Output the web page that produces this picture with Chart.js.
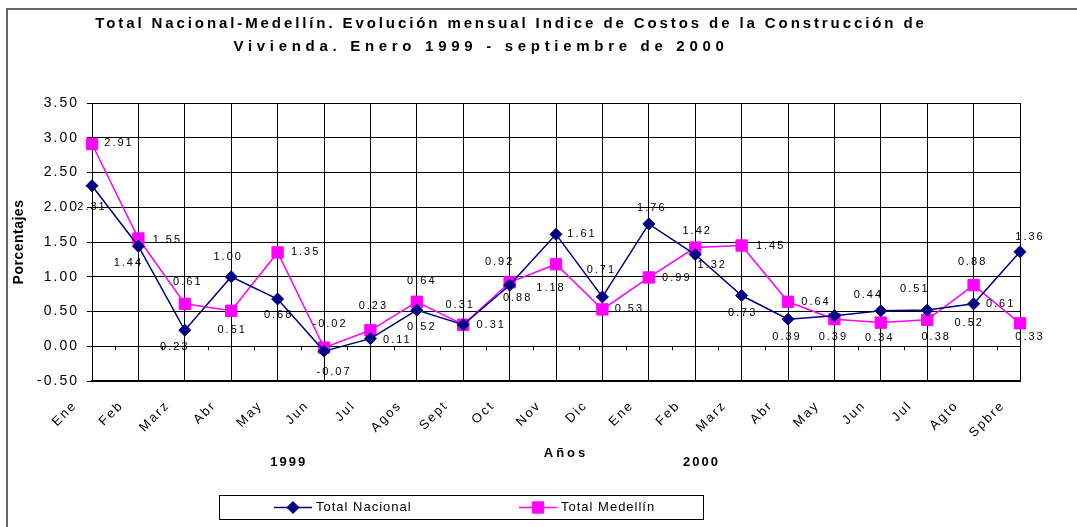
<!DOCTYPE html>
<html lang="es">
<head>
  <meta charset="UTF-8" />
  <title>Índice de Costos de la Construcción de Vivienda</title>
  <script src="https://cdn.jsdelivr.net/npm/chart.js"></script>
  <style>
    html, body { margin: 0; padding: 0; background: #fff; }
    #wrap { width: 1077px; height: 527px; }
  </style>
</head>
<body>
  <div id="wrap"><canvas id="chart" width="1077" height="527"></canvas></div>

  <script>
    // data
    const months = ["Ene", "Feb", "Marz", "Abr", "May", "Jun", "Jul", "Agos", "Sept", "Oct", "Nov", "Dic",
                    "Ene", "Feb", "Marz", "Abr", "May", "Jun", "Jul", "Agto", "Spbre"];
    const totalNacional = [2.31, 1.44, 0.23, 1.00, 0.68, -0.07, 0.11, 0.52, 0.31, 0.88, 1.61, 0.71,
                           1.76, 1.32, 0.73, 0.39, 0.44, 0.51, 0.52, 0.61, 1.36];
    const totalMedellin = [2.91, 1.55, 0.61, 0.51, 1.35, -0.02, 0.23, 0.64, 0.31, 0.92, 1.18, 0.53,
                           0.99, 1.42, 1.45, 0.64, 0.39, 0.34, 0.38, 0.88, 0.33];
    const yTickValues = [-0.5, 0, 0.5, 1, 1.5, 2, 2.5, 3, 3.5];
    const yearLabels = ["1999", "2000"];

    // where each value label sits relative to its point (dx, dy in px)
    const nacLabelOffsets = [[0,21],[-10,17],[-10,17],[-3,-20],[1,16],[10,21],[27,1],[5,17],[28,0],[8,13],[26,0],
                             [-1,-27],[3,-16],[17,10],[1,17],[-1,18],[34,-21],[34,-22],[42,13],[27,0],[10,-15]];
    const medLabelOffsets = [[27,-1],[29,1],[3,-22],[1,19],[28,0],[6,-24],[3,-24],[5,-21],[-3,-20],[-10,-20],[-5,24],
                             [27,0],[28,1],[2,-17],[29,0],[28,0],[-1,18],[-1,15],[9,17],[-1,-23],[10,14]];

    const FONT = "'Liberation Sans', Arial, sans-serif";

    function spacedText(ctx, txt, x, y, font, spacing, align) {
      ctx.save();
      ctx.font = font;
      ctx.letterSpacing = spacing;
      ctx.fillStyle = '#000';
      ctx.textAlign = align || 'center';
      ctx.textBaseline = 'middle';
      ctx.fillText(txt, x, y);
      ctx.restore();
    }

    const decorations = {
      id: 'decorations',
      beforeDraw(chart) {
        const ctx = chart.ctx;
        ctx.save();
        ctx.fillStyle = '#fff';
        ctx.fillRect(0, 0, chart.width, chart.height);
        ctx.restore();
        // excel-ish wide spacing for axis tick labels
        ctx.letterSpacing = '2px';
      },
      afterDatasetsDraw(chart) {
        const ctx = chart.ctx;
        const xs = chart.scales.x, ys = chart.scales.y;
        // little ticks on the zero line, between categories
        const y0 = ys.getPixelForValue(0);
        ctx.save();
        ctx.strokeStyle = '#000';
        ctx.lineWidth = 1;
        ctx.beginPath();
        for (let i = 0; i < months.length - 1; i++) {
          const xm = Math.round((xs.getPixelForValue(i) + xs.getPixelForValue(i + 1)) / 2) + 0.5;
          ctx.moveTo(xm, y0);
          ctx.lineTo(xm, y0 + 4);
        }
        ctx.stroke();
        ctx.restore();

        // value labels
        const sets = [[0, nacLabelOffsets], [1, medLabelOffsets]];
        sets.forEach(([di, offs]) => {
          const meta = chart.getDatasetMeta(di);
          const vals = chart.data.datasets[di].data;
          meta.data.forEach((pt, i) => {
            spacedText(ctx, vals[i].toFixed(2), pt.x + offs[i][0], pt.y + offs[i][1],
                       '11px ' + FONT, '2px', 'center');
          });
        });
      },
      afterDraw(chart) {
        const ctx = chart.ctx;
        const xs = chart.scales.x;

        // outer frame (only top and left show)
        ctx.save();
        ctx.strokeStyle = '#333';
        ctx.lineWidth = 1.5;
        ctx.beginPath();
        ctx.moveTo(7, chart.height);
        ctx.lineTo(7, 9);
        ctx.lineTo(chart.width, 9);
        ctx.stroke();
        ctx.restore();

        // title
        spacedText(ctx, 'Total Nacional-Medellín. Evolución mensual Indice de Costos de la Construcción de',
                   511, 24, 'bold 15px ' + FONT, '2.9px');
        spacedText(ctx, 'Vivienda. Enero 1999 - septiembre de 2000', 481, 47, 'bold 15px ' + FONT, '4.7px');

        // y axis title
        ctx.save();
        ctx.translate(19, 242);
        ctx.rotate(-Math.PI / 2);
        spacedText(ctx, 'Porcentajes', 0, 0, 'bold 14px ' + FONT, '0.5px');
        ctx.restore();

        // x axis title and years
        spacedText(ctx, 'Años', 566, 453, 'bold 13px ' + FONT, '3px');
        const midA = (xs.getPixelForValue(4) + xs.getPixelForValue(5)) / 2;
        const midB = (xs.getPixelForValue(13) + xs.getPixelForValue(14)) / 2;
        spacedText(ctx, yearLabels[0], midA - 12, 462, 'bold 13px ' + FONT, '2px');
        spacedText(ctx, yearLabels[1], midB - 17, 462, 'bold 13px ' + FONT, '2px');

        // legend box
        ctx.save();
        ctx.fillStyle = '#fff';
        ctx.strokeStyle = '#000';
        ctx.lineWidth = 1;
        ctx.fillRect(219.5, 495.5, 484, 24);
        ctx.strokeRect(219.5, 495.5, 484, 24);
        ctx.restore();

        const legendX = [274, 519];
        chart.data.datasets.forEach((ds, i) => {
          const x0 = legendX[i], yl = 507.5;
          ctx.save();
          ctx.strokeStyle = ds.borderColor;
          ctx.fillStyle = ds.backgroundColor;
          ctx.lineWidth = 1.5;
          ctx.beginPath();
          ctx.moveTo(x0, yl);
          ctx.lineTo(x0 + 38, yl);
          ctx.stroke();
          ctx.lineWidth = 1;
          Chart.helpers.drawPoint(ctx, {
            pointStyle: ds.pointStyle,
            radius: ds.pointRadius,
            borderWidth: 1
          }, x0 + 19, yl);
          ctx.restore();
          spacedText(ctx, ds.label, x0 + 42, yl, '13px ' + FONT, '1px', 'left');
        });
      }
    };

    const ctx = document.getElementById('chart').getContext('2d');
    const chart = new Chart(ctx, {
      type: 'line',
      data: {
        labels: months,
        datasets: [{
          label: 'Total Nacional',
          data: totalNacional,
          borderColor: '#000080',
          backgroundColor: '#000080',
          borderWidth: 1.5,
          pointStyle: 'rectRot',
          pointRadius: 6,
          pointBorderWidth: 1,
          tension: 0
        }, {
          label: 'Total Medellín',
          data: totalMedellin,
          borderColor: '#FF00FF',
          backgroundColor: '#FF00FF',
          borderWidth: 1.5,
          pointStyle: 'rect',
          pointRadius: 8,
          pointBorderWidth: 1,
          tension: 0
        }]
      },
      options: {
        responsive: false,
        animation: false,
        devicePixelRatio: 1,
        layout: { padding: { top: 103, right: 57, bottom: 0, left: 0 } },
        plugins: {
          legend: { display: false },
          title: { display: false },
          tooltip: { enabled: false }
        },
        scales: {
          x: {
            offset: false,
            ticks: {
              autoSkip: false,
              minRotation: 45,
              maxRotation: 45,
              labelOffset: -17,
              padding: 17,
              color: '#000',
              font: { family: FONT, size: 13 }
            },
            grid: { color: '#000', lineWidth: 1, drawTicks: false },
            border: { color: '#000', width: 2 },
            afterFit(scale) { scale.height = 146; }
          },
          y: {
            min: yTickValues[0],
            max: yTickValues[yTickValues.length - 1],
            afterBuildTicks(scale) { scale.ticks = yTickValues.map(v => ({ value: v })); },
            ticks: {
              callback: v => v.toFixed(2),
              color: '#000',
              padding: 8,
              font: { family: FONT, size: 14 }
            },
            grid: { color: '#000', lineWidth: 1, tickLength: 5 },
            border: { color: '#000', width: 1 },
            afterFit(scale) { scale.width = 92; }
          }
        }
      },
      plugins: [decorations]
    });
  </script>
</body>
</html>
